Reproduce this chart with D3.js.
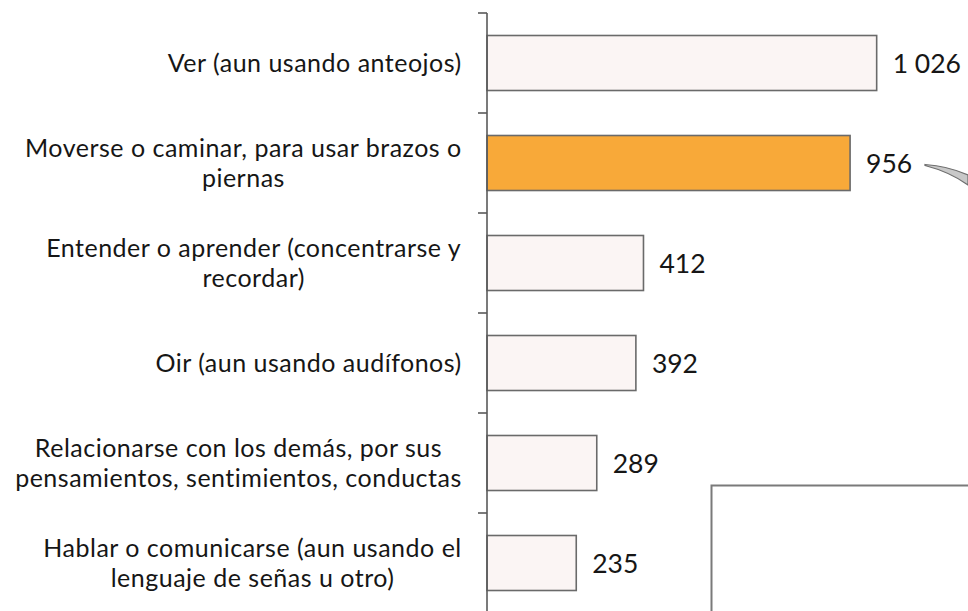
<!DOCTYPE html>
<html>
<head>
<meta charset="utf-8">
<script src="https://cdn.jsdelivr.net/npm/d3@7"></script>
<style>
  html, body { margin: 0; padding: 0; background: #ffffff; }
  svg { display: block; }
  text { font-family: Lato, "Open Sans", sans-serif; fill: #161616; }
</style>
</head>
<body>
<svg id="chart" width="968" height="611"></svg>
<script>
// Categories (each entry is the list of lines of its label)
const categories = [
  ["Ver (aun usando anteojos)"],
  ["Moverse o caminar, para usar brazos o", "piernas"],
  ["Entender o aprender (concentrarse y", "recordar)"],
  ["Oir (aun usando audífonos)"],
  ["Relacionarse con los demás, por sus", "pensamientos, sentimientos, conductas"],
  ["Hablar o comunicarse (aun usando el", "lenguaje de señas u otro)"]
];
const values = [1026, 956, 412, 392, 289, 235];
const highlighted = [false, true, false, false, false, false];

const svg = d3.select("#chart");
const labelSize = 25;
const labelSpacing = 0.5;
const lineHeight = 30;
const valueSize = 26.5;

const keys = categories.map((c, i) => i);

const x = d3.scaleLinear()
  .domain([0, 1000])
  .range([487, 866.8]);

const y = d3.scaleBand()
  .domain(keys)
  .range([13, 613])
  .paddingInner(0.45)
  .paddingOuter(0.225);

const gap = (y.step() - y.bandwidth()) / 2;

// Value formatting with a space as thousands separator
const fmt = d3.formatLocale({ decimal: ",", thousands: " ", grouping: [3], currency: ["", ""] }).format(",");

// Text width measured on a canvas with the label font
const ctx = document.createElement("canvas").getContext("2d");
ctx.font = `${labelSize}px Lato, "Open Sans", sans-serif`;
const measure = s => ctx.measureText(s).width + labelSpacing * s.length;

// Bars
svg.append("g")
  .selectAll("rect")
  .data(keys)
  .join("rect")
  .attr("x", x(0))
  .attr("y", i => y(i))
  .attr("width", i => x(values[i]) - x(0))
  .attr("height", y.bandwidth())
  .attr("fill", i => highlighted[i] ? "#f8a939" : "#fbf5f4")
  .attr("stroke", "#6a6a6a")
  .attr("stroke-width", 1.6);

// Category axis: vertical line plus ticks between bands
const axis = svg.append("g").attr("stroke", "#5a5a5a").attr("stroke-width", 1.6);
axis.append("line")
  .attr("x1", x(0)).attr("x2", x(0))
  .attr("y1", y.range()[0]).attr("y2", y.range()[1]);
const tickYs = keys.map(i => y(i) - gap).concat([y(keys[keys.length - 1]) + y.bandwidth() + gap]);
axis.selectAll("line.tick")
  .data(tickYs)
  .join("line")
  .attr("class", "tick")
  .attr("x1", x(0) - 9).attr("x2", x(0))
  .attr("y1", d => d).attr("y2", d => d);

// Category labels: lines centred on each other, block right-aligned to the axis
const labelRight = 462;
const labelRows = keys.flatMap(i => {
  const lines = categories[i];
  const widths = lines.map(measure);
  const centre = labelRight - d3.max(widths) / 2;
  return lines.map((t, k) => ({
    text: t,
    cx: centre,
    cy: y(i) + y.bandwidth() / 2 + (k - (lines.length - 1) / 2) * lineHeight
  }));
});
svg.append("g")
  .attr("font-size", labelSize)
  .attr("letter-spacing", labelSpacing)
  .selectAll("text")
  .data(labelRows)
  .join("text")
  .attr("x", d => d.cx)
  .attr("y", d => d.cy)
  .attr("dy", "0.36em")
  .attr("text-anchor", "middle")
  .text(d => d.text);

// Value labels
svg.append("g")
  .attr("font-size", valueSize)
  .selectAll("text")
  .data(keys)
  .join("text")
  .attr("x", i => x(values[i]) + 16)
  .attr("y", i => y(i) + y.bandwidth() / 2)
  .attr("dy", "0.38em")
  .text(i => fmt(values[i]));

// Callout pointer leaving the highlighted value
svg.append("path")
  .attr("d", "M925,164.5 Q948,166 968,175 L968,185 Q950,172 925,165.5 Z")
  .attr("fill", "#c8c8c8")
  .attr("stroke", "#6e6e6e")
  .attr("stroke-width", 1.2);

// Inset frame in the lower right
svg.append("path")
  .attr("d", "M711.5,615 L711.5,485.5 L972,485.5")
  .attr("fill", "none")
  .attr("stroke", "#7a7a7a")
  .attr("stroke-width", 2);
</script>
</body>
</html>
